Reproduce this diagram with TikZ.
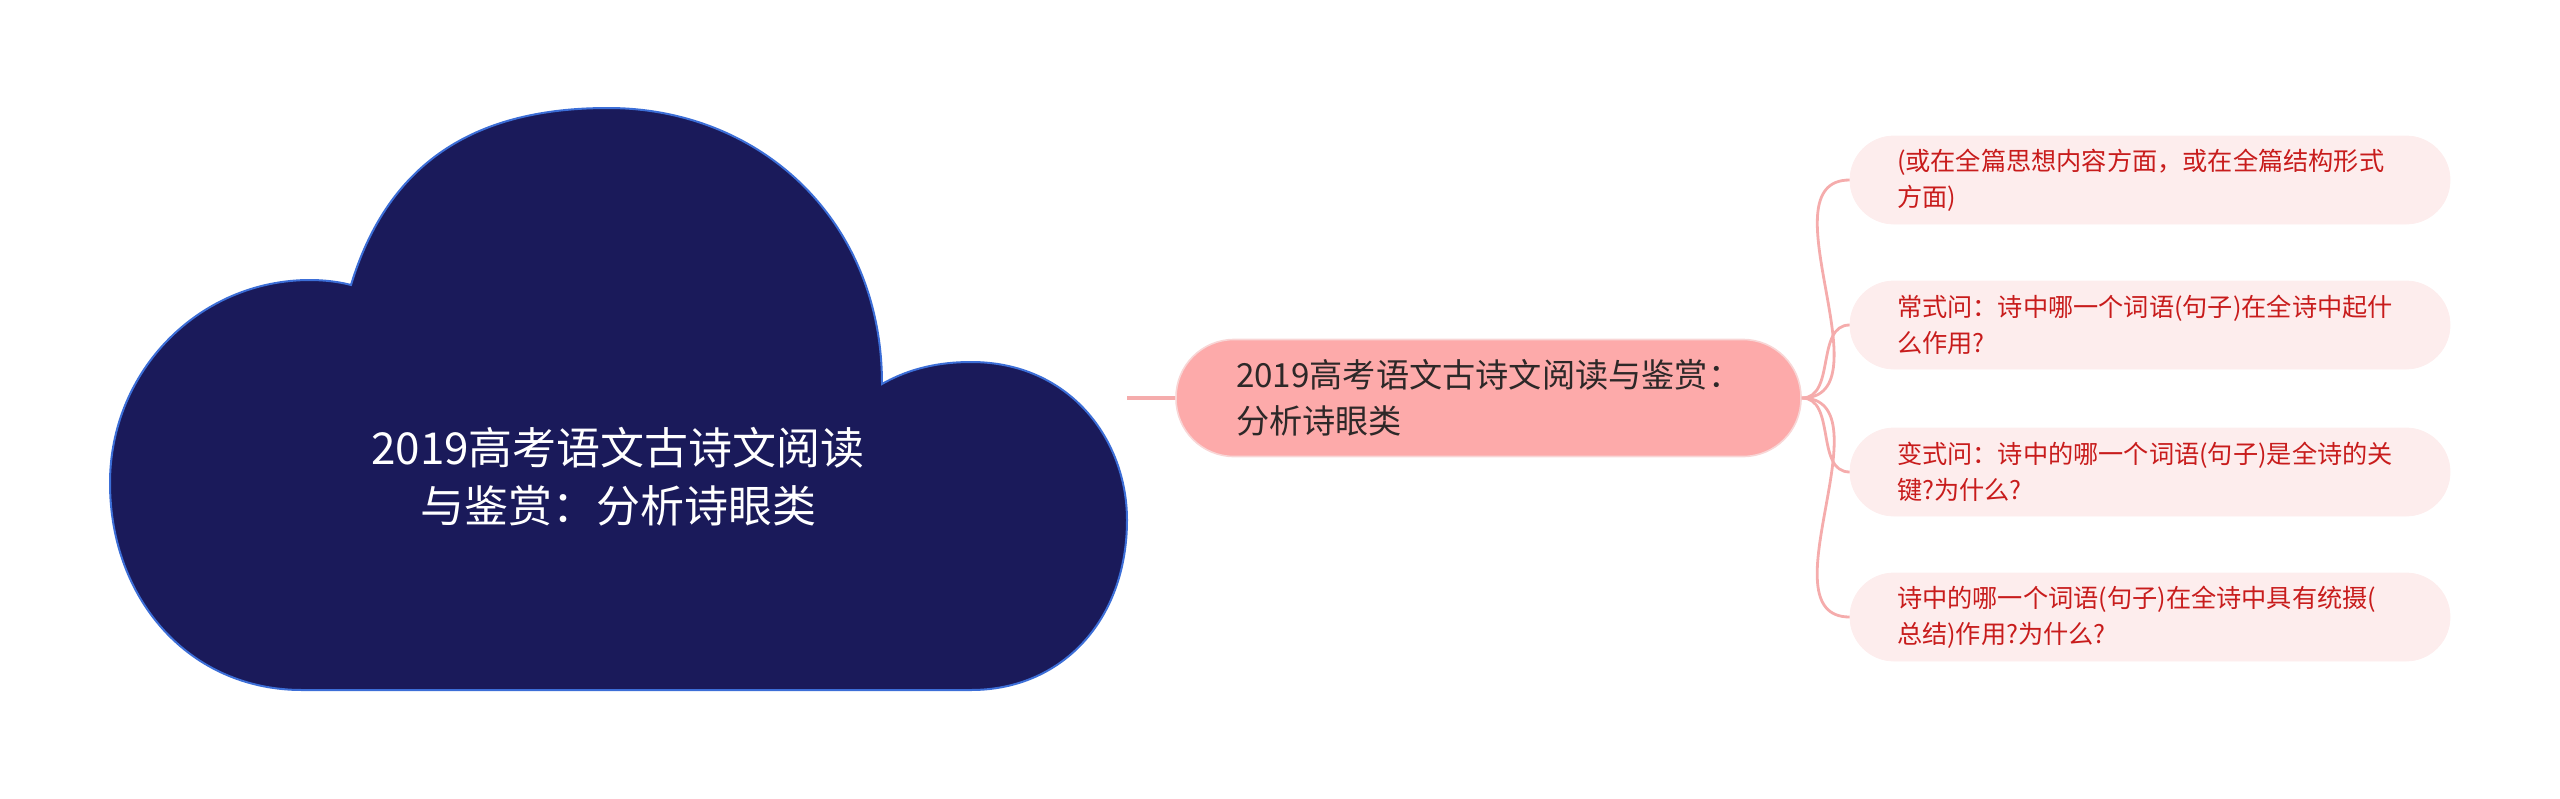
\documentclass[tikz,border=0pt]{standalone}
\usepackage{fontspec}
\setmainfont{Noto Sans CJK SC}
\definecolor{navy}{RGB}{26,26,90}
\definecolor{cloudline}{RGB}{60,110,215}
\definecolor{salmon}{RGB}{253,170,170}
\definecolor{salmonline}{RGB}{248,214,214}
\definecolor{blush}{RGB}{253,237,237}
\definecolor{linkpink}{RGB}{245,172,172}
\definecolor{leafred}{RGB}{200,28,28}
\definecolor{darktext}{RGB}{45,40,40}

\begin{document}
\begin{tikzpicture}[x=0.5pt,y=-0.5pt,
	topicbox/.style={fill=salmon,draw=salmonline,line width=0.8pt,rounded corners=29pt,
		text width=252.5pt,inner xsep=30pt,minimum height=58.5pt,align=left,text=darktext,
		font=\fontsize{16.6pt}{23pt}\selectfont},
	leafbox/.style={fill=blush,draw=blush,rounded corners=22pt,
		text width=253pt,inner xsep=23.5pt,minimum height=44pt,align=left,text=leafred,
		font=\fontsize{12.6pt}{18pt}\selectfont},
	link/.style={linkpink,line width=1.4pt}]

	\useasboundingbox (0,0) rectangle (2560,798);

	% cloud
	\draw[fill=navy,draw=cloudline,line width=1pt]
		(351,285) .. controls (392,150) and (490,108) .. (608,108)
		.. controls (760,108) and (882,220) .. (882,384)
		.. controls (910,368) and (940,362) .. (971,362)
		.. controls (1070,362) and (1127,440) .. (1127,520)
		.. controls (1127,620) and (1062,690) .. (971,690)
		-- (302,690)
		.. controls (190,690) and (110,600) .. (110,483)
		.. controls (110,370) and (200,280) .. (310,280)
		.. controls (325,280) and (340,282) .. (351,285) -- cycle;

	\node[text=white,align=center,font=\fontsize{22pt}{29pt}\selectfont] at (618,477) (root)
		{2019高考语文古诗文阅读\\与鉴赏：分析诗眼类};
	\coordinate (rootedge) at (1127,398);

	\node[topicbox] at (1488.5,398) (topic) {2019高考语文古诗文阅读与鉴赏：\\分析诗眼类};

	\node[leafbox] at (2150,180) (leaf1) {(或在全篇思想内容方面，或在全篇结构形式\\方面)};
	\node[leafbox] at (2150,325) (leaf2) {常式问：诗中哪一个词语(句子)在全诗中起什\\么作用?};
	\node[leafbox] at (2150,472) (leaf3) {变式问：诗中的哪一个词语(句子)是全诗的关\\键?为什么?};
	\node[leafbox] at (2150,617) (leaf4) {诗中的哪一个词语(句子)在全诗中具有统摄(\\总结)作用?为什么?};

	\draw[link,line width=2pt] (rootedge) to (topic.west);

	\draw[link] (topic.east) to [out=0,in=180] (leaf1.west);
	\draw[link] (topic.east) to [out=0,in=180] (leaf2.west);
	\draw[link] (topic.east) to [out=0,in=180] (leaf3.west);
	\draw[link] (topic.east) to [out=0,in=180] (leaf4.west);
\end{tikzpicture}
\end{document}
